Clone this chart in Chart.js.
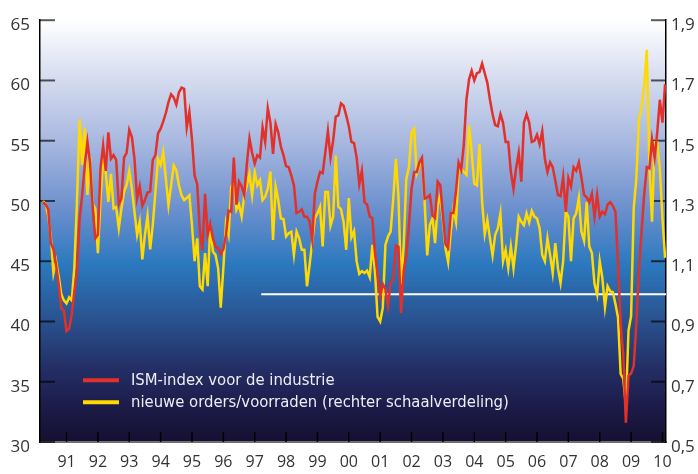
<!DOCTYPE html>
<html>
<head>
<meta charset="utf-8">
<script src="https://cdn.jsdelivr.net/npm/chart.js@4.4.1/dist/chart.umd.min.js"></script>
<style>
    html, body { margin: 0; padding: 0; background: #ffffff; }
    #wrap { width: 698px; height: 474px; }
</style>
</head>
<body>
<div id="wrap"><canvas id="ismChart" width="698" height="474"></canvas></div>
<script>
// maandcijfers, index 0 = april 1990, laatste = februari 2010
const ismIndex = [
    49.9, 49.7, 49.3, 46.5, 46.0, 44.7, 43.1, 41.1, 40.9, 39.2, 39.4, 40.6,
    42.5, 44.2, 48.5, 50.5, 53.0, 54.9, 53.2, 49.5, 46.9, 47.2, 52.7, 54.6,
    52.5, 55.7, 53.5, 53.8, 53.4, 49.7, 50.2, 53.6, 54.0, 55.9, 55.3, 53.5,
    50.2, 51.2, 49.6, 50.1, 50.7, 50.8, 53.4, 53.8, 55.6, 56.0, 56.6, 57.3,
    58.2, 58.85, 58.6, 58.0, 59.0, 59.4, 59.3, 56.1, 57.4, 55.1, 52.1, 51.4,
    47.5, 45.9, 50.6, 47.2, 48.1, 46.9, 46.2, 46.1, 45.6, 46.0, 47.2, 49.2,
    49.1, 53.6, 49.7, 51.6, 51.2, 50.5, 53.1, 55.2, 54.0, 53.1, 53.8, 53.6,
    56.1, 54.9, 57.7, 56.5, 53.9, 56.4, 55.7, 54.5, 53.8, 52.9, 52.8, 52.1,
    51.3, 49.0, 49.1, 49.3, 48.7, 48.7, 48.3, 46.8, 50.6, 51.6, 52.4, 52.3,
    54.0, 55.8, 53.6, 55.0, 57.0, 57.1, 58.1, 57.9, 57.1, 56.2, 54.9, 54.8,
    53.6, 51.4, 52.5, 49.9, 49.7, 48.7, 48.6, 45.7, 43.9, 42.1, 43.1, 42.7,
    41.3, 43.2, 43.5, 46.3, 46.2, 40.7, 44.2, 45.4, 48.0, 51.0, 52.4, 52.4,
    53.2, 53.6, 50.2, 50.3, 50.5, 48.8, 48.6, 51.6, 51.3, 48.8, 46.4, 46.1,
    49.0, 49.0, 50.8, 53.2, 52.6, 54.7, 58.4, 60.1, 60.8, 60.0, 60.6, 60.7,
    61.4, 60.6, 59.8, 58.4, 57.2, 56.3, 56.2, 57.2, 56.5, 54.9, 54.9, 52.4,
    51.0, 52.7, 54.0, 51.6, 56.5, 57.2, 56.5, 54.9, 55.0, 55.5, 54.7, 55.8,
    53.5, 52.4, 53.2, 52.8, 51.7, 50.5, 50.4, 52.0, 49.1, 51.9, 51.2, 52.8,
    52.5, 53.2, 51.9, 50.5, 50.3, 49.9, 50.6, 48.7, 50.5, 48.7, 49.1, 48.9,
    49.7, 49.9, 49.6, 49.1, 44.7, 39.8, 37.3, 31.6, 35.5, 35.7, 36.3, 39.8,
    44.2, 47.5, 50.5, 52.8, 52.7, 55.1, 53.6, 55.7, 58.4, 56.5, 59.7
];

const ordersRatio = [
    1.30, 1.29, 1.25, 1.18, 1.06, 1.10, 1.05, 0.99, 0.97, 0.96, 0.98, 0.97,
    1.08, 1.30, 1.57, 1.42, 1.54, 1.32, 1.45, 1.29, 1.275, 1.127, 1.308, 1.44,
    1.396, 1.297, 1.39, 1.275, 1.28, 1.209, 1.275, 1.33, 1.353, 1.40, 1.341, 1.264,
    1.188, 1.231, 1.106, 1.188, 1.251, 1.139, 1.221, 1.33, 1.44, 1.42, 1.462, 1.374,
    1.286, 1.352, 1.418, 1.402, 1.352, 1.319, 1.303, 1.31, 1.319, 1.22, 1.10, 1.176,
    1.017, 1.006, 1.127, 1.017, 1.226, 1.132, 1.121, 1.077, 0.946, 1.077, 1.226, 1.188,
    1.347, 1.363, 1.27, 1.288, 1.248, 1.319, 1.352, 1.39, 1.319, 1.396, 1.352, 1.369,
    1.303, 1.314, 1.341, 1.398, 1.171, 1.347, 1.303, 1.242, 1.24, 1.182, 1.193, 1.198,
    1.121, 1.198, 1.176, 1.138, 1.138, 1.017, 1.089, 1.165, 1.242, 1.259, 1.281, 1.149,
    1.33, 1.33, 1.218, 1.248, 1.451, 1.281, 1.273, 1.231, 1.138, 1.31, 1.179, 1.20,
    1.10, 1.058, 1.067, 1.061, 1.069, 1.047, 1.154, 1.067, 0.915, 0.90, 0.946, 1.154,
    1.182, 1.198, 1.308, 1.44, 1.314, 1.023, 1.154, 1.374, 1.412, 1.528, 1.539, 1.392,
    1.418, 1.434, 1.297, 1.119, 1.22, 1.242, 1.16, 1.286, 1.319, 1.237, 1.143, 1.097,
    1.198, 1.275, 1.231, 1.402, 1.407, 1.396, 1.387, 1.55, 1.462, 1.357, 1.352, 1.489,
    1.297, 1.19, 1.237, 1.176, 1.119, 1.188, 1.209, 1.259, 1.10, 1.138, 1.077, 1.149,
    1.077, 1.154, 1.248, 1.231, 1.22, 1.259, 1.229, 1.267, 1.248, 1.242, 1.209, 1.121,
    1.10, 1.176, 1.121, 1.061, 1.16, 1.077, 1.028, 1.10, 1.264, 1.248, 1.10, 1.242,
    1.259, 1.31, 1.198, 1.168, 1.297, 1.149, 1.127, 1.025, 0.99, 1.10, 1.044, 0.948,
    1.017, 1.0, 0.998, 0.959, 0.913, 0.726, 0.71, 0.62, 0.869, 0.918, 1.275, 1.374,
    1.571, 1.61, 1.682, 1.802, 1.418, 1.231, 1.495, 1.495, 1.407, 1.242, 1.111
];

// januari van elk jaar (maandindex) en de bijbehorende labels
const yearTicks = [9, 21, 33, 45, 57, 69, 81, 93, 105, 117, 129, 141, 153, 165, 177, 189, 201, 213, 225, 237];
const yearLabels = ['91', '92', '93', '94', '95', '96', '97', '98', '99', '00',
                    '01', '02', '03', '04', '05', '06', '07', '08', '09', '10'];
const leftTicks = [30, 35, 40, 45, 50, 55, 60, 65];
const rightTicks = [0.5, 0.7, 0.9, 1.1, 1.3, 1.5, 1.7, 1.9];

// witte referentielijn (rechter schaal)
const refLevel = 0.99;
const refStart = 83.5;

const seriesNames = ['ISM-index voor de industrie', 'nieuwe orders/voorraden (rechter schaalverdeling)'];
const seriesColors = ['#e2302a', '#ffd900'];

const tickFont = { family: '"Open Sans", "Liberation Sans", sans-serif', size: 17 };

// achtergrond met kleurverloop
const backdrop = {
    id: 'backdrop',
    beforeDraw(chart) {
        const { ctx, chartArea: a } = chart;
        const g = ctx.createLinearGradient(0, a.top, 0, a.bottom);
        g.addColorStop(0, '#ffffff');
        g.addColorStop(0.15, '#d2d9ee');
        g.addColorStop(0.30, '#a4b5de');
        g.addColorStop(0.45, '#6b8fcd');
        g.addColorStop(0.58, '#2b78be');
        g.addColorStop(0.70, '#2a5593');
        g.addColorStop(0.82, '#243067');
        g.addColorStop(0.92, '#1c1a48');
        g.addColorStop(1, '#161030');
        ctx.save();
        ctx.fillStyle = g;
        ctx.fillRect(a.left, a.top, a.right - a.left, a.bottom - a.top);
        ctx.restore();
    }
};

// korte streepjes naar binnen
const innerTicks = {
    id: 'innerTicks',
    beforeDatasetsDraw(chart) {
        const { ctx, chartArea: a, scales } = chart;
        const line = (x1, y1, x2, y2) => {
            ctx.beginPath();
            ctx.moveTo(x1, y1);
            ctx.lineTo(x2, y2);
            ctx.stroke();
        };
        ctx.save();
        ctx.strokeStyle = 'rgba(0,0,0,0.65)';
        ctx.lineWidth = 2;
        leftTicks.forEach(v => {
            const y = scales.y.getPixelForValue(v);
            line(a.left, y, a.left + 15, y);
        });
        rightTicks.forEach(v => {
            const y = scales.y1.getPixelForValue(v);
            line(a.right - 15, y, a.right, y);
        });
        ctx.strokeStyle = '#000000';
        ctx.lineWidth = 1.5;
        yearTicks.forEach(v => {
            const x = scales.x.getPixelForValue(v);
            line(x, a.bottom - 10, x, a.bottom);
        });
        ctx.restore();
    }
};

// legenda linksonder in het grafiekvlak
const legendBox = {
    id: 'legendBox',
    afterDatasetsDraw(chart) {
        const { ctx, chartArea: a } = chart;
        ctx.save();
        ctx.font = '16.5px "DejaVu Sans Condensed", "Liberation Sans", sans-serif';
        ctx.textBaseline = 'middle';
        seriesNames.forEach((name, i) => {
            const y = a.top + 360 + i * 22;
            ctx.strokeStyle = seriesColors[i];
            ctx.lineWidth = 4;
            ctx.beginPath();
            ctx.moveTo(a.left + 43, y);
            ctx.lineTo(a.left + 79, y);
            ctx.stroke();
            ctx.fillStyle = '#eeeef4';
            ctx.fillText(name, a.left + 91, y + 1);
        });
        ctx.restore();
    }
};

const toPoints = arr => arr.map((v, i) => ({ x: i, y: v }));

new Chart(document.getElementById('ismChart'), {
    type: 'line',
    data: {
        datasets: [{
            label: seriesNames[0],
            data: toPoints(ismIndex),
            borderColor: seriesColors[0],
            borderWidth: 2.5,
            pointRadius: 0,
            tension: 0,
            yAxisID: 'y',
            order: 1
        }, {
            label: seriesNames[1],
            data: toPoints(ordersRatio),
            borderColor: seriesColors[1],
            borderWidth: 2.5,
            pointRadius: 0,
            tension: 0,
            yAxisID: 'y1',
            order: 2
        }, {
            label: 'ref',
            data: [{ x: refStart, y: refLevel }, { x: 238.35, y: refLevel }],
            borderColor: '#ffffff',
            borderWidth: 2,
            pointRadius: 0,
            yAxisID: 'y1',
            order: 3
        }]
    },
    options: {
        responsive: false,
        animation: false,
        devicePixelRatio: 1,
        layout: { padding: { top: 17, left: 0, right: 0, bottom: 0 } },
        plugins: {
            legend: { display: false },
            tooltip: { enabled: false }
        },
        scales: {
            x: {
                type: 'linear',
                min: -1.15,
                max: 238.35,
                grid: { display: false, drawTicks: false },
                border: { display: true, color: '#707070', width: 2 },
                afterBuildTicks: s => { s.ticks = yearTicks.map(v => ({ value: v })); },
                afterFit: s => { s.height = 32; },
                ticks: {
                    autoSkip: false,
                    maxRotation: 0,
                    padding: 11,
                    color: '#333333',
                    font: { family: tickFont.family, size: 16 },
                    callback: (v, i) => yearLabels[i]
                }
            },
            y: {
                position: 'left',
                min: 30,
                max: 65,
                grid: { display: false, drawTicks: false },
                border: { display: true, color: '#000000', width: 1.5 },
                afterBuildTicks: s => { s.ticks = leftTicks.map(v => ({ value: v })); },
                afterFit: s => { s.width = 40; },
                ticks: {
                    padding: 10,
                    labelOffset: 5,
                    color: '#333333',
                    font: tickFont
                }
            },
            y1: {
                position: 'right',
                min: 0.5,
                max: 1.9,
                grid: { display: false, drawTicks: false },
                border: { display: true, color: '#000000', width: 1.5 },
                afterBuildTicks: s => { s.ticks = rightTicks.map(v => ({ value: v })); },
                afterFit: s => { s.width = 32; },
                ticks: {
                    padding: 5,
                    labelOffset: 5,
                    color: '#333333',
                    font: tickFont,
                    callback: v => v.toFixed(1).replace('.', ',')
                }
            }
        }
    },
    plugins: [backdrop, innerTicks, legendBox]
});
</script>
</body>
</html>
